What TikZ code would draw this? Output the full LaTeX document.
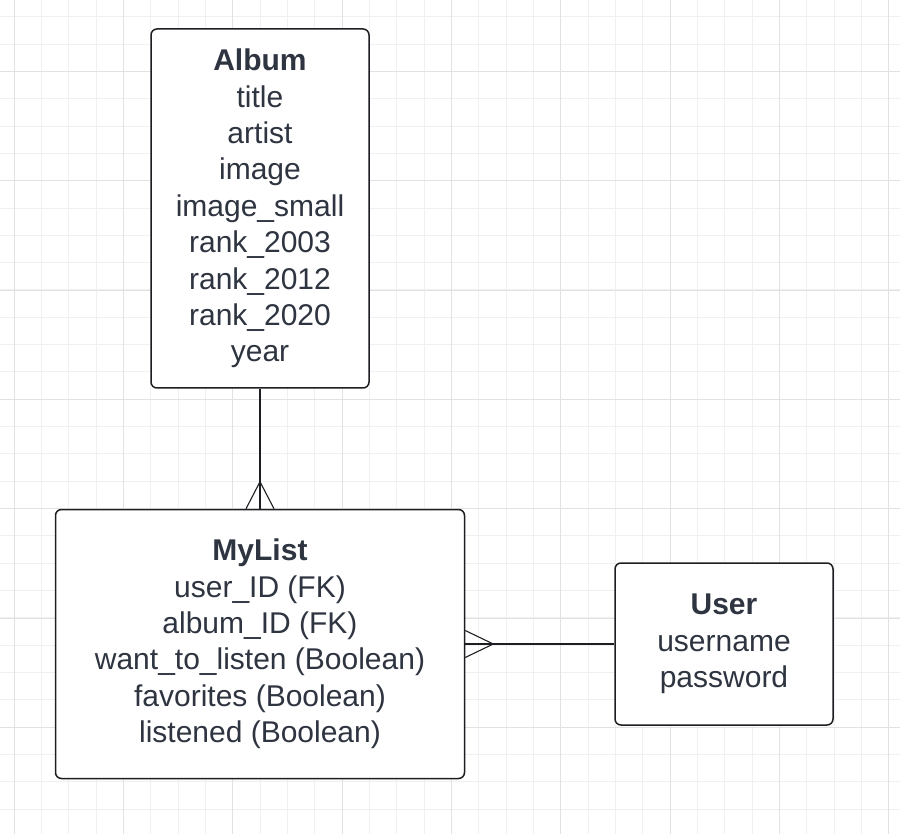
\documentclass[tikz,border=0pt]{standalone}
\usepackage{fontspec}
\setmainfont{Liberation Sans}
\usetikzlibrary{positioning}
\definecolor{inkcol}{RGB}{46,52,64}
\definecolor{edgecol}{RGB}{28,30,34}
\definecolor{minorgrid}{RGB}{240,240,240}
\definecolor{majorgrid}{RGB}{226,226,226}

\begin{document}
\begin{tikzpicture}[x=1pt,y=-1pt,
    entity/.style={draw=edgecol,line width=1.5pt,rounded corners=6pt,fill=white,
        text=inkcol,align=center,inner sep=0pt,
        font=\fontsize{30}{36.4}\selectfont},
    link/.style={draw=edgecol,line width=1.4pt},
    foot/.style={draw=edgecol,line width=1.1pt}]

            \useasboundingbox (0,0) rectangle (900,834);

            % background grid
            \foreach \i in {0,...,32}
                \draw[minorgrid,line width=1pt] ({14.3+\i*27.33},0) -- ++(0,834);
            \foreach \i in {0,...,29}
                \draw[minorgrid,line width=1pt] (0,{16.7+\i*27.33}) -- ++(900,0);
            \foreach \i in {0,...,8}
                \draw[majorgrid,line width=1pt] ({14.3+\i*109.32},0) -- ++(0,834);
            \foreach \i in {0,...,6}
                \draw[majorgrid,line width=1pt] (0,{71.4+\i*109.32}) -- ++(900,0);

            \path   (260,208.5) node (album) [entity,minimum width=218pt,minimum height=359pt]
                        {\textbf{Album}\\title\\artist\\image\\image\_small\\rank\_2003\\rank\_2012\\rank\_2020\\year}
                    (260,644) node (mylist) [entity,minimum width=409pt,minimum height=269pt]
                        {\textbf{MyList}\\user\_ID (FK)\\album\_ID (FK)\\want\_to\_listen (Boolean)\\favorites (Boolean)\\listened (Boolean)}
                    (724,644) node (user) [entity,minimum width=218pt,minimum height=162pt]
                        {\textbf{User}\\username\\password};

            \draw[link] (album) -- (mylist);
            \draw[link] (mylist) -- (user);

            % crow's feet
            \coordinate (tipa) at ([yshift=27pt]mylist.north);
            \coordinate (tipb) at ([xshift=28pt]mylist.east);
            \draw[foot] ([xshift=-14pt]mylist.north) -- (tipa) -- ([xshift=14pt]mylist.north);
            \draw[foot] ([yshift=13.5pt]mylist.east) -- (tipb) -- ([yshift=-13.5pt]mylist.east);
        \end{tikzpicture}
\end{document}
